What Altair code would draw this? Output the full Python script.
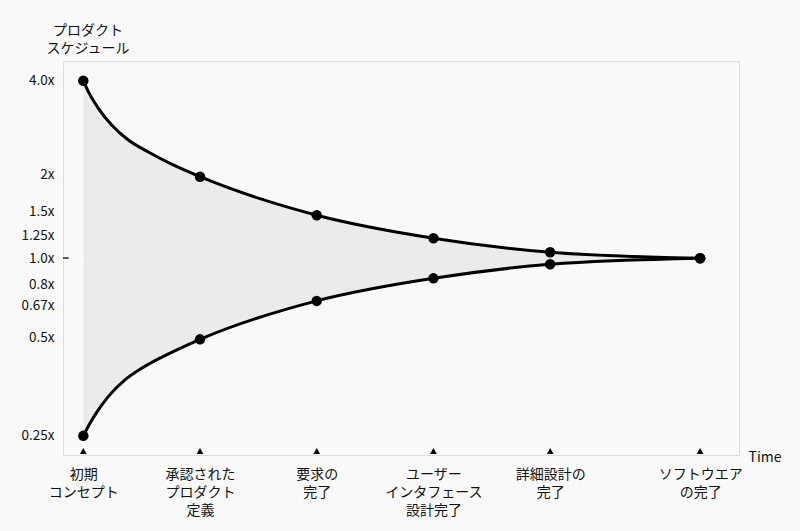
import json
import altair as alt
import pandas as pd

# ---- data ----
milestones = [
    "初期\nコンセプト",
    "承認された\nプロダクト\n定義",
    "要求の\n完了",
    "ユーザー\nインタフェース\n設計完了",
    "詳細設計の\n完了",
    "ソフトウエア\nの完了",
]
time_pos = [0, 1, 2, 3, 4, 5.285]
upper = [4.0, 1.89, 1.40, 1.17, 1.048, 1.0]
lower = [0.25, 0.531, 0.717, 0.855, 0.954, 1.0]

# extra points (between the first two milestones)
upper_trace_t = [0.043, 0.129, 0.243, 0.386, 0.557, 0.757]
upper_trace_v = [3.671, 3.225, 2.831, 2.518, 2.293, 2.084]
lower_trace_t = [0.057, 0.129, 0.214, 0.357, 0.500, 0.672, 0.843]
lower_trace_v = [0.2758, 0.3061, 0.3396, 0.3868, 0.4236, 0.4619, 0.4977]

y_tick_values = [4.0, 1.93, 1.44, 1.19, 1.0, 0.818, 0.694, 0.539, 0.25]
y_tick_labels = ["4.0x", "2x", "1.5x", "1.25x", "1.0x", "0.8x", "0.67x", "0.5x", "0.25x"]

x_domain = [-0.174, 5.618]
y_domain = [0.2153, 4.665]

# ---- tables ----
wide = pd.DataFrame({"t": time_pos, "upper": upper, "lower": lower, "label": milestones})
long = pd.concat([
    pd.DataFrame({"t": time_pos, "v": upper, "s": "upper"}),
    pd.DataFrame({"t": time_pos, "v": lower, "s": "lower"}),
])
curves = pd.concat([
    pd.DataFrame({"t": time_pos + upper_trace_t, "v": upper + upper_trace_v, "s": "upper"}),
    pd.DataFrame({"t": time_pos + lower_trace_t, "v": lower + lower_trace_v, "s": "lower"}),
]).sort_values(["s", "t"]).reset_index(drop=True)

W, H = 676, 394
FONT = "Noto Sans CJK JP"
CURVE = "monotone"

ylabel_expr = "%s[indexof(%s, datum.value)]" % (
    json.dumps(y_tick_labels, ensure_ascii=False), json.dumps(y_tick_values))
xlabel_expr = "%s[indexof(%s, datum.value)]" % (
    json.dumps([m.split("\n") for m in milestones], ensure_ascii=False), json.dumps(time_pos))

xscale = alt.Scale(domain=x_domain, nice=False, zero=False)
yscale = alt.Scale(type="log", domain=y_domain, nice=False)

xaxis = alt.Axis(values=time_pos, labelExpr=xlabel_expr, ticks=False, domain=False, grid=False,
                 labelFontSize=14, labelLineHeight=18, labelBaseline="top", labelPadding=12,
                 labelFlush=False, labelOverlap=False, labelBound=False, labelColor="#111",
                 title="Time", titleX=685, titleY=2, titleAlign="left", titleBaseline="middle",
                 titleFontSize=14, titleFontWeight="normal", titleColor="#111")
yaxis = alt.Axis(values=y_tick_values, labelExpr=ylabel_expr, ticks=False, domain=False, grid=False,
                 labelFontSize=13.5, labelPadding=9, labelColor="#111", labelOverlap=False,
                 labelFlush=False, labelBound=False,
                 title=["プロダクト", "スケジュール"], titleAngle=0, titleAlign="center",
                 titleBaseline="bottom", titleX=24.5, titleY=-24, titleFontSize=14,
                 titleFontWeight="normal", titleLineHeight=18, titleColor="#111")

area = alt.Chart(curves).mark_area(color="#ebebeb", interpolate=CURVE).encode(
    x=alt.X("t:Q", scale=xscale, axis=xaxis),
    y=alt.Y("v:Q", scale=yscale, axis=yaxis),
    y2=alt.Y2(datum=1.0),
    detail="s:N",
)

base_line = alt.Chart(wide).mark_rule(color="#555", strokeWidth=1.3).encode(
    x=alt.value(0),
    x2=alt.X2(datum=time_pos[-1]),
    y=alt.Y(datum=1.0),
)

lines = alt.Chart(curves).mark_line(color="black", strokeWidth=3, interpolate=CURVE).encode(
    x="t:Q", y="v:Q", detail="s:N", order="t:Q")

points = alt.Chart(long).mark_circle(color="black", size=110, opacity=1).encode(
    x="t:Q", y="v:Q")

markers = alt.Chart(wide).mark_point(shape="triangle-up", filled=True, color="black",
                                     size=45, opacity=1).encode(
    x="t:Q", y=alt.value(H - 4))

chart = alt.layer(area, base_line, lines, points, markers).properties(
    width=W, height=H,
    autosize=alt.AutoSizeParams(type="none"),
    padding={"left": 63, "top": 61, "right": 61, "bottom": 76},
    background="#f9f9f9",
).configure_view(stroke="#8a8a8a", strokeWidth=1.5, fill="#f9f9f9").configure(font=FONT)

chart.save("out.html", embed_options={"renderer": "svg", "actions": False})
